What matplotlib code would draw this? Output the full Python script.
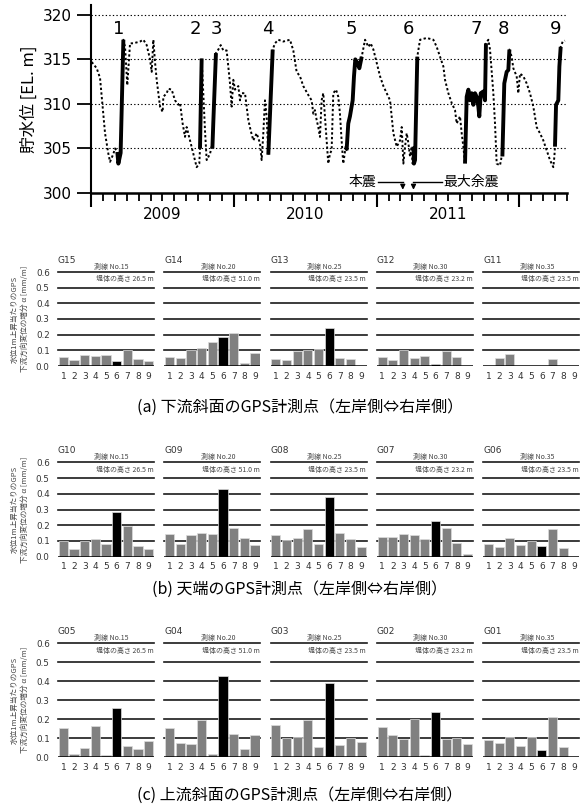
import numpy as np
from matplotlib import pyplot as plt

plt.rcParams['font.family'] = ['DejaVu Sans', 'Noto Sans CJK JP']

################################### water level data #################################
# months since Jan 2009, reservoir level [EL. m]
month = [0.06, 0.48, 0.76, 0.90, 1.18, 1.46, 1.60, 1.88, 2.02, 2.21, 2.30, 2.49, 2.72, 2.86, 3.05, 3.28,
         3.56, 4.12, 4.40, 4.68, 4.96, 5.10, 5.24, 5.38, 5.52, 5.80, 6.02, 6.08, 6.36, 6.50, 6.78, 7.06,
         7.34, 7.48, 7.70, 7.90, 8.04, 8.32, 8.60, 8.88, 9.10, 9.16, 9.30, 9.58, 9.72, 10.00, 10.14, 10.20,
         10.28, 10.50, 10.70, 10.90, 11.12, 11.40, 11.68, 11.82, 11.96, 12.10, 12.38, 12.52, 12.66, 12.94,
         13.22, 13.42, 13.64, 13.92, 14.20, 14.34, 14.48, 14.62, 14.76, 14.90, 15.27, 15.46, 15.74, 16.16,
         16.72, 17.00, 17.28, 17.56, 17.84, 18.26, 18.54, 18.68, 18.82, 18.96, 19.10, 19.24, 19.38, 19.52,
         19.66, 19.80, 19.94, 20.08, 20.22, 20.36, 20.59, 20.78, 20.92, 21.06, 21.20, 21.40, 21.48, 21.62,
         21.76, 21.90, 21.99, 22.10, 22.21, 22.38, 22.55, 22.75, 23.03, 23.31, 23.50, 23.73, 24.01, 24.29,
         24.57, 24.85, 25.13, 25.41, 25.69, 25.97, 26.11, 26.25, 26.39, 26.53, 26.67, 26.81, 26.95, 27.03,
         27.09, 27.14, 27.23, 27.42, 27.65, 28.21, 28.77, 29.05, 29.33, 29.61, 29.75, 30.03, 30.31, 30.59,
         30.73, 31.01, 31.15, 31.29, 31.43, 31.57, 31.71, 31.85, 31.99, 32.13, 32.27, 32.41, 32.55, 32.63,
         32.75, 32.97, 33.11, 33.19, 33.39, 33.53, 33.81, 33.95, 34.09, 34.37, 34.51, 34.57, 34.73, 34.93,
         35.07, 35.16, 35.35, 35.49, 35.77, 35.91, 36.05, 36.33, 36.61, 36.89, 37.17, 37.45, 37.73, 38.01,
         38.29, 38.57, 38.85, 38.94, 38.99, 39.08, 39.27, 39.36, 39.47, 39.64, 39.83]
level = [314.7, 314.0, 312.9, 310.8, 306.7, 304.4, 303.5, 304.4, 305.0, 304.6, 303.3, 304.5, 317.2, 316.4, 312.1, 316.8,
         316.8, 317.0, 317.2, 316.6, 315.0, 313.6, 317.2, 314.7, 312.7, 309.7, 309.1, 310.8, 311.2, 311.7, 311.6, 310.4,
         309.9, 310.1, 307.8, 306.3, 307.4, 305.9, 304.4, 302.9, 303.3, 305.0, 315.1, 307.0, 303.7, 304.4, 305.2, 305.0,
         308.0, 315.7, 316.1, 316.6, 316.0, 316.0, 312.3, 309.7, 312.7, 311.6, 312.0, 310.4, 311.2, 311.2,
         308.2, 307.0, 305.9, 306.7, 305.6, 303.7, 306.7, 310.4, 308.6, 304.3, 316.1, 316.8, 317.2, 317.0,
         317.2, 316.0, 313.6, 313.1, 312.0, 311.0, 310.4, 308.9, 309.3, 308.2, 307.4, 306.3, 310.4, 311.2,
         308.6, 305.9, 303.3, 304.4, 304.8, 311.2, 311.6, 310.8, 308.9, 305.9, 303.3, 305.2, 304.8, 307.8,
         308.6, 309.7, 310.4, 313.1, 315.0, 314.6, 314.0, 315.3, 317.2, 316.4, 316.8, 316.1, 314.6, 313.1,
         312.0, 311.2, 310.4, 306.7, 305.2, 305.9, 307.4, 303.3, 305.2, 306.7, 305.6, 304.1, 305.2, 303.3,
         305.2, 303.3, 303.7, 315.3, 317.2, 317.4, 317.2, 316.4, 315.3, 314.2, 312.7, 311.2, 310.1, 309.3,
         307.8, 308.6, 306.7, 305.2, 303.3, 310.8, 311.6, 310.4, 311.2, 309.9, 311.2, 310.8, 309.7, 308.6,
         311.2, 311.4, 310.4, 316.8, 317.2, 316.1, 311.2, 307.8, 303.3, 303.1, 304.1, 304.1, 312.3, 313.6,
         313.8, 316.1, 315.3, 314.0, 313.1, 311.2, 313.4, 313.1, 312.3, 311.2, 309.7, 307.4, 306.7, 305.9,
         304.8, 303.7, 302.9, 304.1, 305.2, 309.9, 310.4, 314.2, 316.4, 317.0, 317.1]

# filling periods 1-9 (start, end month)
fills = [(2.21, 2.72), (9.16, 9.30), (10.20, 10.50), (14.90, 15.27), (21.48, 22.75),
         (27.09, 27.42), (31.43, 33.19), (34.57, 35.16), (38.99, 39.47)]
fill_names = ['1', '2', '3', '4', '5', '6', '7', '8', '9']
fill_label_x = [2.3, 8.74, 10.56, 14.9, 21.9, 26.67, 32.41, 34.7, 39.08]
years = ['2009', '2010', '2011']

################################### GPS data #################################
cases = ['1', '2', '3', '4', '5', '6', '7', '8', '9']
lines_no = ['No.15', 'No.20', 'No.25', 'No.30', 'No.35']
heights = ['26.5', '51.0', '23.5', '23.2', '23.5']
nan = np.nan

names_a = ['G15', 'G14', 'G13', 'G12', 'G11']
vals_a = [[0.057, 0.038, 0.070, 0.066, 0.068, 0.032, 0.102, 0.047, 0.032],
          [0.055, 0.051, 0.100, 0.113, 0.153, 0.187, 0.213, 0.017, 0.085],
          [0.045, 0.038, 0.098, 0.100, 0.110, 0.243, 0.051, 0.043, nan],
          [0.055, 0.038, 0.102, 0.053, 0.064, 0.015, 0.094, 0.055, nan],
          [nan, 0.051, 0.077, nan, nan, nan, 0.045, nan, nan]]

names_b = ['G10', 'G09', 'G08', 'G07', 'G06']
vals_b = [[0.100, 0.049, 0.100, 0.110, 0.078, 0.284, 0.197, 0.066, 0.049],
          [0.142, 0.083, 0.138, 0.153, 0.142, 0.430, 0.184, 0.117, 0.076],
          [0.136, 0.106, 0.117, 0.174, 0.083, 0.380, 0.153, 0.114, 0.059],
          [0.123, 0.123, 0.144, 0.140, 0.114, 0.229, 0.184, 0.087, 0.019],
          [0.080, 0.064, 0.121, 0.076, 0.100, 0.066, 0.176, 0.055, nan]]

names_c = ['G05', 'G04', 'G03', 'G02', 'G01']
vals_c = [[0.155, 0.018, 0.049, 0.166, 0.011, 0.257, 0.060, 0.044, 0.086],
          [0.153, 0.074, 0.069, 0.194, 0.018, 0.430, 0.123, 0.046, 0.115],
          [0.171, 0.099, 0.109, 0.194, 0.053, 0.390, 0.065, 0.100, 0.079],
          [0.159, 0.116, 0.095, 0.203, 0.012, 0.240, 0.097, 0.100, 0.069],
          [0.092, 0.074, 0.106, 0.060, 0.106, 0.039, 0.212, 0.055, nan]]

captions = ['(a) 下流斜面のGPS計測点（左岸側⇔右岸側）',
            '(b) 天端のGPS計測点（左岸側⇔右岸側）',
            '(c) 上流斜面のGPS計測点（左岸側⇔右岸側）']

W, H = 580, 807
fig = plt.figure(figsize=(W / 100, H / 100), dpi=100)

################################### water level plot #################################
ax = fig.add_axes([91 / W, 1 - 193 / H, 476 / W, 188 / H])
month = np.array(month)
level = np.array(level)
ax.plot(month, level, color='black', lw=1.4, ls=(0, (1.2, 1.2)))
for (s, e) in fills:
    m = (month >= s) & (month <= e)
    ax.plot(month[m], level[m], color='black', lw=2.8, solid_capstyle='butt')
for name, x in zip(fill_names, fill_label_x):
    ax.text(x, 318.4, name, ha='center', va='center', fontsize=13)

for y in [305, 310, 315, 320]:
    ax.axhline(y, color='black', lw=0.8, ls=(0, (1.2, 2.0)), zorder=0)

ax.set_xlim(0, 40)
ax.set_ylim(300, 321.1)
ax.set_yticks([300, 305, 310, 315, 320])
ax.tick_params(axis='y', labelsize=11, length=10, width=1.3)
ax.set_xticks([0, 12, 24, 36])
ax.set_xticks(np.arange(0, 41), minor=True)
ax.set_xticklabels([])
ax.tick_params(axis='x', which='major', length=10, width=1.5)
ax.tick_params(axis='x', which='minor', length=6, width=1.3)
for sp in ['top', 'right']:
    ax.spines[sp].set_visible(False)
ax.spines['left'].set_linewidth(1.5)
ax.spines['bottom'].set_linewidth(1.8)
ax.set_ylabel('貯水位 [EL. m]', fontsize=12, family=['Noto Sans CJK JP', 'DejaVu Sans'])
for i, yr in enumerate(years):
    ax.text(6 + 12 * i, 297.6, yr, ha='center', va='center', fontsize=11, clip_on=False)

# earthquakes
ax.text(24.0, 301.2, '本震', ha='right', va='center', fontsize=10,
        family=['Noto Sans CJK JP', 'DejaVu Sans'])
ax.plot([24.1, 26.2], [301.2, 301.2], color='black', lw=1, clip_on=False)
ax.annotate('', xy=(26.2, 300.05), xytext=(26.2, 301.25),
            arrowprops=dict(arrowstyle='-|>', color='black', lw=1, mutation_scale=7), annotation_clip=False)
ax.text(29.6, 301.2, '最大余震', ha='left', va='center', fontsize=10,
        family=['Noto Sans CJK JP', 'DejaVu Sans'])
ax.plot([27.1, 29.5], [301.2, 301.2], color='black', lw=1, clip_on=False)
ax.annotate('', xy=(27.1, 300.05), xytext=(27.1, 301.25),
            arrowprops=dict(arrowstyle='-|>', color='black', lw=1, mutation_scale=7), annotation_clip=False)

################################### GPS bar panels #################################
rows = [(272, 366, names_a, vals_a), (462.3, 556.7, names_b, vals_b), (643.3, 757.3, names_c, vals_c)]
caption_y = [407, 589, 795]
xs = np.arange(1, 10)

for r, (top, bot, names, vals) in enumerate(rows):
    for k in range(5):
        left = 58 + k * 106.3
        a = fig.add_axes([left / W, 1 - bot / H, 96 / W, (bot - top) / H])
        v = np.array(vals[k])
        colors = ['black' if c == '6' else '#808080' for c in cases]
        ok = ~np.isnan(v)
        a.bar(xs[ok], v[ok], width=0.85, color=np.array(colors)[ok],
              edgecolor='#dddddd', lw=0.5, zorder=3)
        for y in [0.1, 0.2, 0.3, 0.4, 0.5, 0.6]:
            a.axhline(y, color='#1a1a1a', lw=1.2, zorder=1, clip_on=False)
        a.axhline(0, color='black', lw=1.8, zorder=4)
        a.set_xlim(0.5, 9.5)
        a.set_ylim(0, 0.6)
        a.set_xticks(xs)
        a.set_xticklabels(cases)
        a.tick_params(axis='x', length=0, labelsize=6.5, pad=4, colors='#333333')
        for sp in a.spines.values():
            sp.set_visible(False)
        if k == 0:
            a.set_yticks([0.0, 0.1, 0.2, 0.3, 0.4, 0.5, 0.6])
            a.set_yticklabels(['0.0', '0.1', '0.2', '0.3', '0.4', '0.5', '0.6'])
            a.tick_params(axis='y', length=0, labelsize=6.3, pad=6, colors='#333333')
            a.set_ylabel('水位1m上昇当たりのGPS\n下流方向変位の増分 α [mm/m]', fontsize=5.5,
                         color='#444444', labelpad=5, linespacing=1.3,
                         family=['Noto Sans CJK JP', 'DejaVu Sans'])
        else:
            a.set_yticks([])
        a.annotate(names[k], xy=(0, 1), xycoords='axes fraction', xytext=(0, 5),
                   textcoords='offset points', ha='left', va='bottom', fontsize=6.5, color='#333333')
        a.annotate('測線 ' + lines_no[k], xy=(0.38, 1), xycoords='axes fraction', xytext=(0, 0.8),
                   textcoords='offset points', ha='left', va='bottom', fontsize=5.0, color='#444444',
                   family=['Noto Sans CJK JP', 'DejaVu Sans'])
        a.annotate('堤体の高さ ' + heights[k] + ' m', xy=(0.995, 1), xycoords='axes fraction', xytext=(0, -2.5),
                   textcoords='offset points', ha='right', va='top', fontsize=5.0, color='#444444',
                   family=['Noto Sans CJK JP', 'DejaVu Sans'])
    fig.text(300 / W, 1 - caption_y[r] / H, captions[r], ha='center', va='center', fontsize=11.5,
             family=['Noto Sans CJK JP', 'DejaVu Sans'])

plt.savefig('out.png', dpi=100)
